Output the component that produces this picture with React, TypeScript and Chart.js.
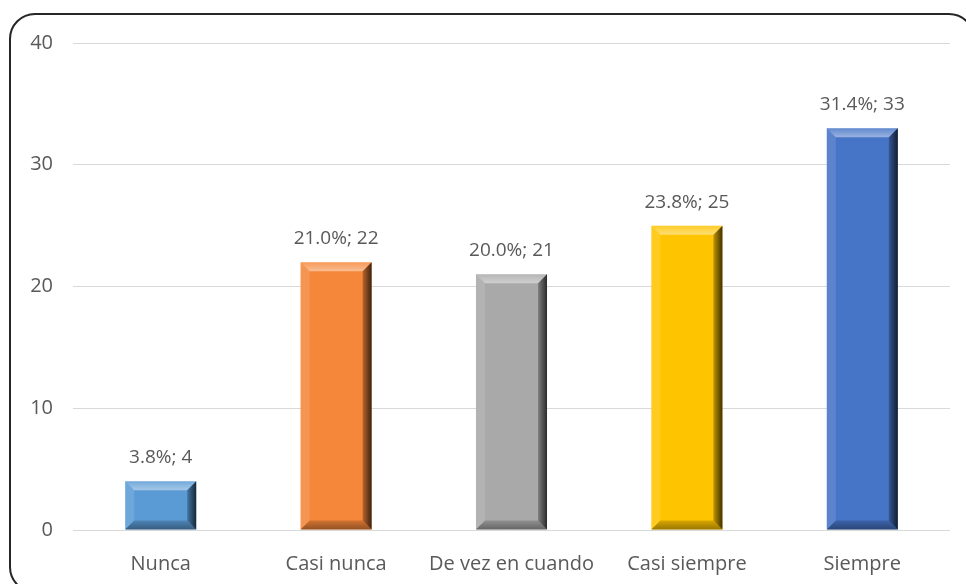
import React, { useEffect, useRef } from "react";
import { Chart, registerables } from "chart.js";

Chart.register(...registerables);

const categories = ["Nunca", "Casi nunca", "De vez en cuando", "Casi siempre", "Siempre"];
const counts = [4, 22, 21, 25, 33];
const barColors = ["#5b9bd5", "#f5873a", "#a9a9a9", "#ffc400", "#4674c6"];
const yTicks = [0, 10, 20, 30, 40];

const total = counts.reduce((a, b) => a + b, 0);
const FONT = "'Open Sans', sans-serif";
const TEXT = "#595959";

// Beveled look: light top/left facets, dark right/bottom facets
const bevelPlugin = {
  id: "bevel",
  afterDatasetsDraw(chart: any) {
    const ctx = chart.ctx;
    const meta = chart.getDatasetMeta(0);
    meta.data.forEach((bar: any) => {
      const p = bar.getProps(["x", "y", "base", "width"], true);
      const l = p.x - p.width / 2;
      const r = p.x + p.width / 2;
      const t = p.y;
      const b = p.base;
      const h = b - t;
      const s = Math.min(9, h / 2.2);
      ctx.save();
      // top facet
      ctx.beginPath();
      ctx.moveTo(l, t);
      ctx.lineTo(r, t);
      ctx.lineTo(r - s, t + s);
      ctx.lineTo(l + s, t + s);
      ctx.closePath();
      const gt = ctx.createLinearGradient(0, t, 0, t + s);
      gt.addColorStop(0, "rgba(255,255,255,0.15)");
      gt.addColorStop(1, "rgba(255,255,255,0.45)");
      ctx.fillStyle = gt;
      ctx.fill();
      // left facet
      ctx.beginPath();
      ctx.moveTo(l, t);
      ctx.lineTo(l + s, t + s);
      ctx.lineTo(l + s, b - s);
      ctx.lineTo(l, b);
      ctx.closePath();
      ctx.fillStyle = "rgba(255,255,255,0.12)";
      ctx.fill();
      // right facet
      ctx.beginPath();
      ctx.moveTo(r, t);
      ctx.lineTo(r, b);
      ctx.lineTo(r - s, b - s);
      ctx.lineTo(r - s, t + s);
      ctx.closePath();
      const gr = ctx.createLinearGradient(r - s, 0, r, 0);
      gr.addColorStop(0, "rgba(0,0,0,0.25)");
      gr.addColorStop(1, "rgba(0,0,0,0.75)");
      ctx.fillStyle = gr;
      ctx.fill();
      // bottom facet
      ctx.beginPath();
      ctx.moveTo(l, b);
      ctx.lineTo(l + s, b - s);
      ctx.lineTo(r - s, b - s);
      ctx.lineTo(r, b);
      ctx.closePath();
      const gb = ctx.createLinearGradient(0, b - s, 0, b);
      gb.addColorStop(0, "rgba(0,0,0,0.15)");
      gb.addColorStop(1, "rgba(0,0,0,0.4)");
      ctx.fillStyle = gb;
      ctx.fill();
      ctx.restore();
    });
  },
};

// Value labels above each bar: "pct%; count"
const labelPlugin = {
  id: "valueLabels",
  afterDatasetsDraw(chart: any) {
    const ctx = chart.ctx;
    const meta = chart.getDatasetMeta(0);
    ctx.save();
    ctx.font = `19px ${FONT}`;
    ctx.fillStyle = TEXT;
    ctx.textAlign = "center";
    ctx.textBaseline = "alphabetic";
    meta.data.forEach((bar: any, i: number) => {
      const v = counts[i];
      const pct = ((v / total) * 100).toFixed(1);
      ctx.fillText(`${pct}%; ${v}`, bar.x, bar.y - 18);
    });
    ctx.restore();
  },
};

export default function App() {
  const ref = useRef<HTMLCanvasElement>(null);

  useEffect(() => {
    if (!ref.current) return;
    const chart = new Chart(ref.current, {
      type: "bar",
      data: {
        labels: categories,
        datasets: [
          {
            data: counts,
            backgroundColor: barColors,
            borderWidth: 0,
            categoryPercentage: 1,
            barPercentage: 0.405,
          },
        ],
      },
      options: {
        animation: false,
        responsive: false,
        maintainAspectRatio: false,
        devicePixelRatio: 1,
        layout: { padding: { top: 43, right: 16, left: 0, bottom: 0 } },
        plugins: {
          legend: { display: false },
          tooltip: { enabled: false },
        },
        scales: {
          x: {
            grid: { display: false },
            border: { display: false },
            ticks: { color: TEXT, font: { family: FONT, size: 20 }, padding: 14, maxRotation: 0 },
            afterFit: (s: any) => {
              s.height = 54;
            },
          },
          y: {
            min: 0,
            max: 40,
            afterBuildTicks: (s: any) => {
              s.ticks = yTicks.map((v) => ({ value: v }));
            },
            grid: { color: "#d9d9d9", lineWidth: 1, drawTicks: false },
            border: { display: false },
            ticks: { color: TEXT, font: { family: FONT, size: 20 }, padding: 20 },
            afterFit: (s: any) => {
              s.width = 73;
            },
          },
        },
      },
      plugins: [bevelPlugin, labelPlugin],
    });
    return () => chart.destroy();
  }, []);

  return (
    <div style={{ position: "fixed", left: 0, top: 0, width: 966, height: 584, overflow: "hidden", background: "#fff" }}>
      <div
        style={{
          position: "absolute",
          left: 9,
          top: 13,
          width: 966,
          height: 580,
          border: "2px solid #262626",
          borderRadius: 26,
          boxSizing: "border-box",
        }}
      />
      <canvas ref={ref} width={966} height={584} style={{ position: "absolute", left: 0, top: 0 }} />
    </div>
  );
}
